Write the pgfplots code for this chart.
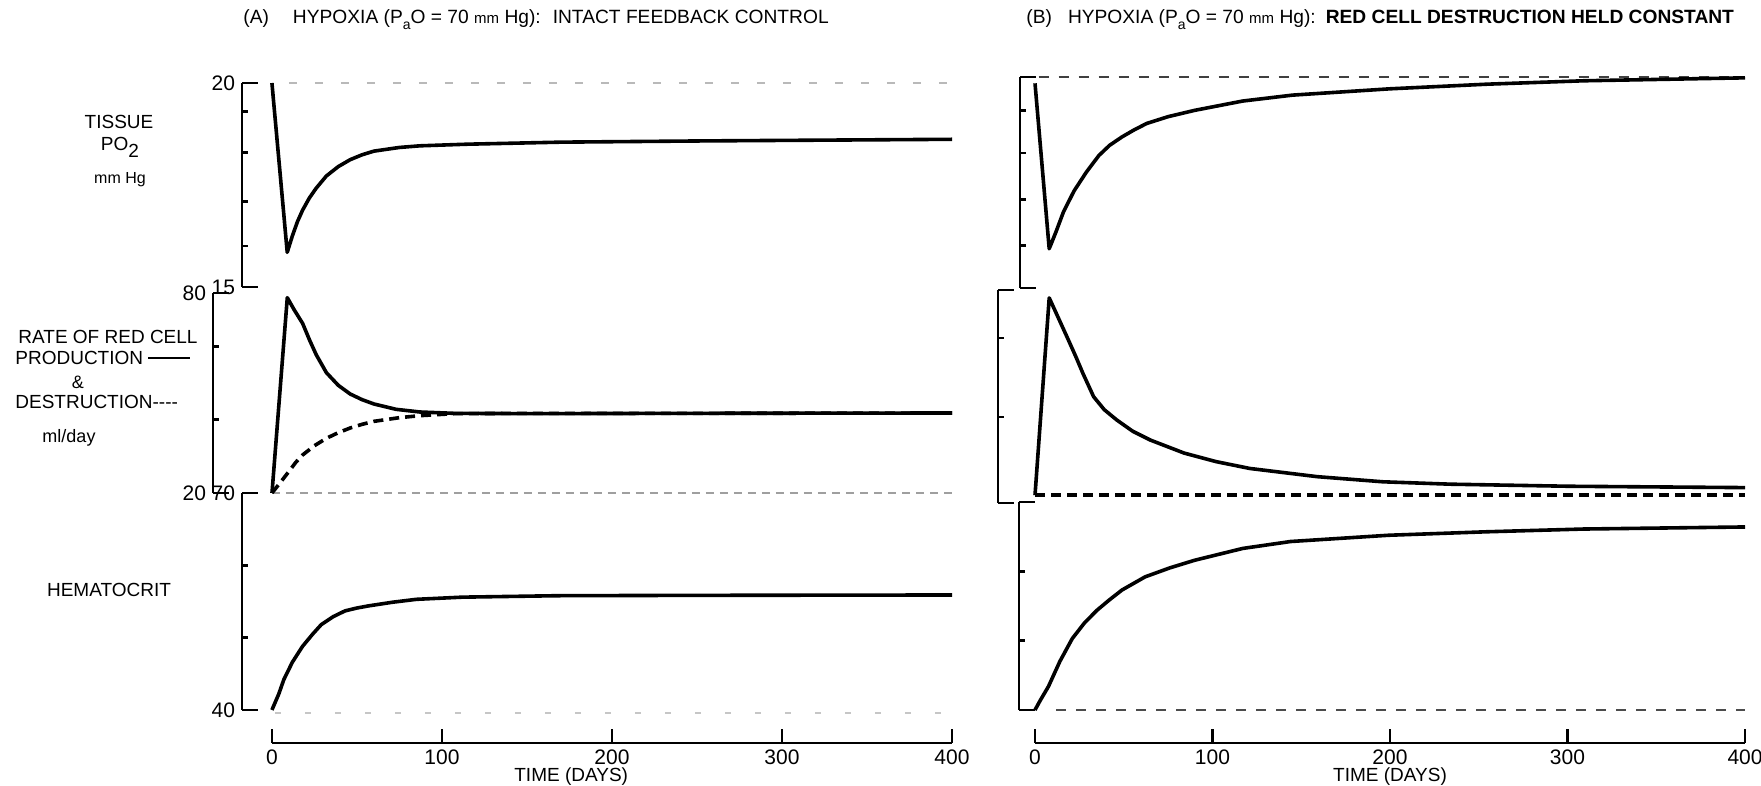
\documentclass[border=0pt]{standalone}
\usepackage{fontspec}
\setmainfont{Liberation Sans}
\usepackage{pgfplots}
\pgfplotsset{compat=1.18}
\pgfplotsset{
  /pgf/number format/assume math mode=true,
  panel/.style={scale only axis, anchor=south west, axis x line=none, axis y line*=left,
    clip=false, tick align=inside, major tick length=3pt,
    axis line style={line width=1.4pt, black},
    ytick style={line width=1.3pt, black},
    yticklabels={},
    extra y tick style={major tick length=8pt, tick align=inside},
    xmax=400,
    ticklabel style={font=\fontsize{10.5}{10.5}\selectfont}},
  xpanel/.style={scale only axis, anchor=south west, axis x line*=bottom, axis y line=none,
    clip=false, tick align=inside, major tick length=7pt, xmin=0, xmax=400, ymin=0, ymax=1,
    height=10pt, xtick={0,100,200,300,400},
    axis line style={line width=1.3pt, black}, xtick style={line width=1.3pt, black},
    ticklabel style={font=\fontsize{10.5}{10.5}\selectfont},
    xlabel={TIME (DAYS)}, xlabel style={font=\fontsize{9.5}{9.5}\selectfont, inner sep=0pt, yshift=2pt}},
  curve/.style={black, line width=1.8pt, line join=round},
  dcurve/.style={black, line width=1.8pt, dash pattern=on 5pt off 3pt},
}
\begin{document}
\begin{tikzpicture}
\path[use as bounding box] (0,0) rectangle (880.5pt,393pt);
% ---------- Panel A ----------
\begin{axis}[panel, at={(121pt,249.5pt)}, width=355pt, height=102pt, xmin=-17.6,
  ymin=15, ymax=20, ytick={16,17.1,18.3,19.3}, extra y ticks={15,20}, extra y tick labels={15,20}]
\addplot[gray!55, line width=1pt, dash pattern=on 4pt off 9pt] coordinates {(10,20) (400,20)};
\addplot[curve] coordinates {(0,20) (9,15.85) (12,16.25) (15,16.6) (18,16.88) (22,17.18) (26,17.42) (32,17.72) (39,17.95) (46,18.12) (53,18.24) (60,18.33) (75,18.42) (87,18.46) (115,18.50) (170,18.55) (253,18.58) (400,18.62)};
\end{axis}
\begin{axis}[panel, at={(106.5pt,146.5pt)}, width=369.5pt, height=100pt, xmin=-34.7,
  ymin=20, ymax=80, ytick={42,64}, extra y ticks={20,80}, extra y tick labels={20,80}]
\addplot[gray!75, line width=1.2pt, dash pattern=on 4pt off 3pt] coordinates {(0,20) (400,20)};
\addplot[curve] coordinates {(0,20) (9,78.6) (13,75) (18,70.9) (22,66) (26,61.5) (32,56.1) (39,52.3) (46,49.7) (53,48) (60,46.7) (73,45.1) (87,44.3) (107,43.9) (150,43.8) (250,43.9) (400,44.0)};
\addplot[dcurve] coordinates {(0,20) (5,23.2) (10,26.5) (14,29.2) (18,31.4) (25,34.2) (32,36.4) (39,38.1) (46,39.5) (53,40.6) (60,41.5) (75,42.6) (87,43.2) (107,43.8) (150,43.9) (250,43.9) (400,44.0)};
\end{axis}
\begin{axis}[panel, at={(121pt,38pt)}, width=355pt, height=108.5pt, xmin=-17.6,
  ymin=40, ymax=70, ytick={50,60}, extra y ticks={40,70}, extra y tick labels={40,70}]
\addplot[gray!45, line width=1pt, dash pattern=on 3pt off 12pt] coordinates {(2,39.6) (400,39.6)};
\addplot[curve] coordinates {(0,40) (4,42.2) (7,44.2) (12,46.6) (18,48.8) (24,50.5) (29,51.8) (36,52.9) (43,53.7) (50,54.1) (57,54.4) (71,54.9) (85,55.3) (112,55.6) (168,55.8) (251,55.85) (400,55.9)};
\end{axis}
\begin{axis}[xpanel, at={(136pt,21.5pt)}, width=340pt,
  xlabel style={at={(ticklabel cs:0.44)}}]
\end{axis}
% ---------- Panel B ----------
\begin{axis}[panel, at={(510pt,249pt)}, width=362.5pt, height=105.5pt, xmin=-8.45,
  ymin=15, ymax=20, ytick={16,17.1,18.2,19.2}, extra y ticks={15,20}, extra y tick labels={,}]
\addplot[black!75, line width=1.3pt, dash pattern=on 5pt off 5pt] coordinates {(2,20) (400,20)};
\addplot[curve] coordinates {(0,19.85) (8,15.93) (12,16.35) (16,16.8) (22,17.3) (29,17.75) (36,18.14) (42,18.38) (49,18.58) (56,18.75) (63,18.9) (75,19.06) (90,19.21) (117,19.43) (145,19.57) (200,19.72) (255,19.83) (309,19.91) (400,19.98)};
\end{axis}
\begin{axis}[panel, at={(499pt,141.5pt)}, width=373.5pt, height=106.5pt, xmin=-20.85,
  ymin=17.7, ymax=80, ytick={42.8,66}, extra y ticks={17.7,80}, extra y tick labels={,}]
\addplot[curve] coordinates {(0,20) (8,77.7) (13,72) (18,66.3) (23,60.5) (27,55.6) (33,48.8) (39,45) (46,42) (55,38.7) (65,36.1) (84,32.3) (102,29.8) (121,27.8) (159,25.4) (196,23.9) (234,23.2) (300,22.6) (400,22.2)};
\addplot[dcurve] coordinates {(0,20) (400,20)};
\end{axis}
\begin{axis}[panel, at={(509.5pt,38pt)}, width=363pt, height=104pt, xmin=-9,
  ymin=40, ymax=70, ytick={50,60}, extra y ticks={40,70}, extra y tick labels={,}]
\addplot[black!70, line width=1.3pt, dash pattern=on 5pt off 5pt] coordinates {(12,40) (400,40)};
\addplot[curve] coordinates {(0,40) (3,41.4) (7.6,43.4) (14,47) (21,50.3) (28,52.6) (35,54.4) (42,55.9) (49,57.3) (62,59.2) (76,60.5) (90,61.6) (117,63.3) (144,64.3) (199,65.2) (254,65.7) (309,66.1) (400,66.4)};
\end{axis}
\begin{axis}[xpanel, at={(517.5pt,21.5pt)}, width=355pt]
\end{axis}
% ---------- titles and labels ----------
\node[anchor=west, font=\fontsize{9.6}{9.6}\selectfont, inner sep=0pt] at (121.5pt,383pt)
  {(A)\hspace{12pt}HYPOXIA (P\raisebox{-0.6ex}{\fontsize{7}{7}\selectfont a}O = 70 {\fontsize{7.5}{7.5}\selectfont mm} Hg):\hspace{6pt}INTACT FEEDBACK CONTROL};
\node[anchor=west, font=\fontsize{9.6}{9.6}\selectfont, inner sep=0pt] at (513pt,383pt)
  {(B)\hspace{8pt}HYPOXIA (P\raisebox{-0.6ex}{\fontsize{7}{7}\selectfont a}O = 70 {\fontsize{7.5}{7.5}\selectfont mm} Hg):\hspace{5pt}\textbf{RED CELL DESTRUCTION HELD CONSTANT}};
\node[font=\fontsize{9.5}{9.5}\selectfont] at (59.5pt,332pt) {TISSUE};
\node[font=\fontsize{9.5}{9.5}\selectfont] at (60pt,319.5pt) {PO\raisebox{-0.7ex}{2}};
\node[font=\fontsize{8}{8}\selectfont] at (60pt,303pt) {mm Hg};
\node[font=\fontsize{9.5}{9.5}\selectfont] at (54pt,224.5pt) {RATE OF RED CELL};
\node[anchor=west, font=\fontsize{9.5}{9.5}\selectfont, inner sep=0pt] at (7.5pt,214pt) {PRODUCTION \rule[0.3em]{2.2em}{0.8pt}};
\node[font=\fontsize{9}{9}\selectfont] at (39pt,202pt) {\&};
\node[anchor=west, font=\fontsize{9.5}{9.5}\selectfont, inner sep=0pt] at (7.5pt,192pt) {DESTRUCTION-{}-{}-{}-};
\node[font=\fontsize{9}{9}\selectfont] at (34.5pt,174pt) {ml/day};
\node[font=\fontsize{9.5}{9.5}\selectfont] at (54.5pt,98pt) {HEMATOCRIT};
\end{tikzpicture}
\end{document}
